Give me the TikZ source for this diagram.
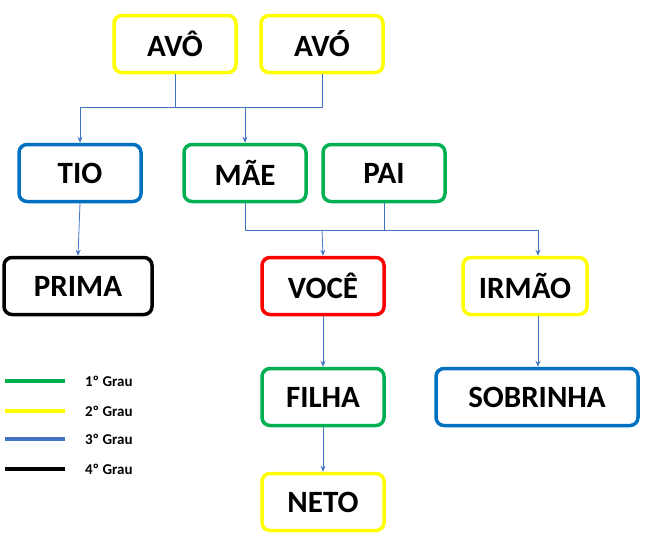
\documentclass[tikz,border=0pt]{standalone}
\usepackage{fontspec}
\setmainfont{Carlito}
\usetikzlibrary{arrows.meta}
\definecolor{grau1}{RGB}{0,176,80}
\definecolor{grau2}{RGB}{255,255,0}
\definecolor{grau3}{RGB}{0,112,192}
\definecolor{lig}{RGB}{68,114,196}
\tikzset{
  pessoa/.style={draw=#1, line width=3.5pt, rounded corners=8pt, fill=white, text=black,
    font=\bfseries\fontsize{31}{32}\selectfont, inner sep=0pt,
    minimum width=122pt, minimum height=57pt},
  liga/.style={lig, line width=0.8pt},
  seta/.style={liga, -{Stealth[length=6pt,width=5pt]}},
  legenda/.style={font=\bfseries\fontsize{15}{16}\selectfont, anchor=west}
}
\begin{document}
\begin{tikzpicture}[x=1pt,y=-1pt]
  \useasboundingbox (0,0) rectangle (649,542);

  % Pessoas
  \node[pessoa=grau2] (avo) at (175,44) {AVÔ};
  \node[pessoa=grau2] (avoa) at (322,44) {AVÓ};
  \node[pessoa=grau3] (tio) at (80,173) {TIO};
  \node[pessoa=grau1] (mae) at (245,173) {MÃE};
  \node[pessoa=grau1] (pai) at (384,173) {PAI};
  \node[pessoa=black, minimum width=148pt] (prima) at (78,286) {PRIMA};
  \node[pessoa=red] (voce) at (323,286) {VOCÊ};
  \node[pessoa=grau2, minimum width=124pt] (irmao) at (525,286) {IRMÃO};
  \node[pessoa=grau1] (filha) at (323,397) {FILHA};
  \node[pessoa=grau3, minimum width=202pt] (sobrinha) at (537,397) {SOBRINHA};
  \node[pessoa=grau2] (neto) at (323,502) {NETO};

  % Ligacoes
  \coordinate (j1) at (175,107);
  \coordinate (j2) at (322,107);
  \draw[liga] (avo.south) -- (j1) -- (j2) -- (avoa.south);
  \draw[seta] (j1) -| (tio.north);
  \draw[seta] (245,107) -- (mae.north);
  \coordinate (k1) at (245,230);
  \coordinate (k2) at (384,230);
  \draw[liga] (mae.south) -- (k1) -- (k2) -- (pai.south);
  \draw[seta] (k2) -| (irmao.north -| 538,0);
  \draw[seta] (322,230) -- (voce.north);
  \draw[seta] (tio.south) -- (prima.north);
  \draw[seta] (voce.south) -- (filha.north);
  \draw[seta] (filha.south) -- (neto.north);
  \draw[seta] (irmao.south -| 538,0) -- (sobrinha.north -| 538,0);

  % Legenda
  \foreach \y/\cor/\txt in {381/grau1/1º Grau, 411/grau2/2º Grau, 439/lig/3º Grau, 469/black/4º Grau}
    \draw[\cor, line width=3.5pt] (5,\y) -- (65,\y) node[legenda, black] at (80,\y) {\txt};
\end{tikzpicture}
\end{document}
